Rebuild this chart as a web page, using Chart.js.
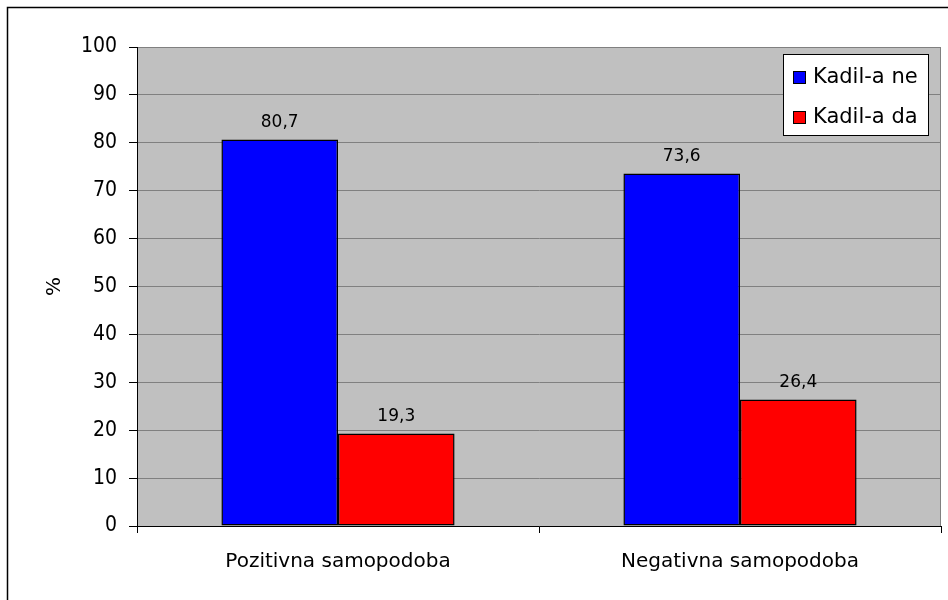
<!DOCTYPE html>
<html>
<head>
<meta charset="utf-8">
<script src="https://cdn.jsdelivr.net/npm/chart.js@4/dist/chart.umd.min.js"></script>
<style>
  html, body { margin: 0; padding: 0; background: #fff; }
  #wrap { width: 948px; height: 600px; }
</style>
</head>
<body>
<div id="wrap"><canvas id="chart" width="948" height="600"></canvas></div>
<script>
const categories = ['Pozitivna samopodoba', 'Negativna samopodoba'];
const kadilNe = [80.7, 73.6];
const kadilDa = [19.3, 26.4];
const seriesNames = ['Kadil-a ne', 'Kadil-a da'];
const yTicks = [0, 10, 20, 30, 40, 50, 60, 70, 80, 90, 100];

const NARROW = '"DejaVu Sans Condensed", "DejaVu Sans", sans-serif';
const WIDE = '"DejaVu Sans", sans-serif';

// gray plot area + outer frame
const background = {
    id: 'background',
    beforeDraw(chart) {
        const c = chart.ctx, a = chart.chartArea;
        c.save();
        c.fillStyle = '#c0c0c0';
        c.fillRect(a.left, a.top, a.right - a.left, a.bottom - a.top);
        c.strokeStyle = '#808080';
        c.lineWidth = 1;
        c.strokeRect(a.left + 0.5, a.top + 0.5, a.right - a.left - 1, a.bottom - a.top);
        c.strokeStyle = '#000';
        c.lineWidth = 1.5;
        c.beginPath();
        c.moveTo(7.5, chart.height);
        c.lineTo(7.5, 7.5);
        c.lineTo(chart.width, 7.5);
        c.stroke();
        c.restore();
    }
};

// value labels above the bars
const valueLabels = {
    id: 'valueLabels',
    afterDatasetsDraw(chart) {
        const c = chart.ctx;
        c.save();
        c.font = '17px ' + WIDE;
        c.fillStyle = '#000';
        c.textAlign = 'center';
        c.textBaseline = 'middle';
        chart.data.datasets.forEach(function (ds, i) {
            chart.getDatasetMeta(i).data.forEach(function (bar, j) {
                c.fillText(String(ds.data[j]).replace('.', ','), bar.x, bar.y - 17);
            });
        });
        c.restore();
    }
};

// boxed legend inside the plot, top right
const boxLegend = {
    id: 'boxLegend',
    afterDraw(chart) {
        const c = chart.ctx;
        const x = 783, y = 54, w = 145, h = 81;
        c.save();
        c.fillStyle = '#fff';
        c.fillRect(x, y, w, h);
        c.strokeStyle = '#000';
        c.lineWidth = 1;
        c.strokeRect(x + 0.5, y + 0.5, w, h);
        c.font = '21px ' + WIDE;
        c.textBaseline = 'middle';
        chart.data.datasets.forEach(function (ds, i) {
            const cy = 77 + i * 40;
            c.fillStyle = ds.backgroundColor;
            c.fillRect(793, cy - 6, 13, 13);
            c.strokeStyle = '#000';
            c.strokeRect(793.5, cy - 5.5, 12, 12);
            c.fillStyle = '#000';
            c.fillText(ds.label, 813, cy + 1);
        });
        c.restore();
    }
};

new Chart(document.getElementById('chart').getContext('2d'), {
    type: 'bar',
    data: {
        labels: categories,
        datasets: [
            {
                label: seriesNames[0],
                data: kadilNe,
                backgroundColor: '#0000ff',
                borderColor: '#000',
                borderWidth: 1.5,
                borderSkipped: false,
                categoryPercentage: 0.58,
                barPercentage: 1
            },
            {
                label: seriesNames[1],
                data: kadilDa,
                backgroundColor: '#ff0000',
                borderColor: '#000',
                borderWidth: 1.5,
                borderSkipped: false,
                categoryPercentage: 0.58,
                barPercentage: 1
            }
        ]
    },
    options: {
        responsive: false,
        animation: false,
        layout: { padding: { left: 39, top: 47, right: 7, bottom: 0 } },
        plugins: {
            legend: { display: false },
            tooltip: { enabled: false }
        },
        scales: {
            x: {
                offset: true,
                grid: { offset: true, drawOnChartArea: false, tickLength: 7, tickColor: '#000' },
                border: { color: '#000', width: 1 },
                ticks: { color: '#000', padding: 17, font: { family: WIDE, size: 20 } },
                afterFit(s) { s.height = 74; }
            },
            y: {
                min: 0,
                max: 100,
                afterBuildTicks(s) { s.ticks = yTicks.map(v => ({ value: v })); },
                grid: { color: '#808080', tickLength: 8, tickColor: '#000' },
                border: { color: '#000', width: 1 },
                ticks: { color: '#000', padding: 12, font: { family: NARROW, size: 21 } },
                title: { display: true, text: '%', color: '#000', font: { family: WIDE, size: 20 } },
                afterFit(s) { s.width = 98; }
            }
        }
    },
    plugins: [background, valueLabels, boxLegend]
});
</script>
</body>
</html>
